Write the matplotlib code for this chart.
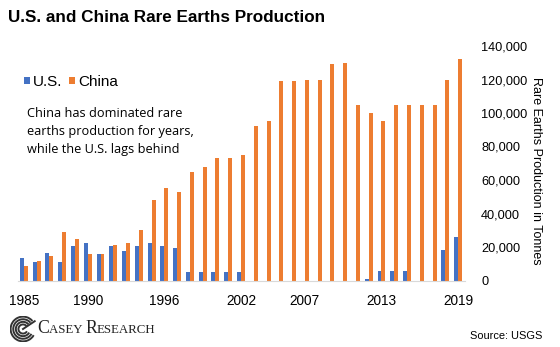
import numpy as np
import matplotlib
matplotlib.use("Agg")
import matplotlib.pyplot as plt
from matplotlib.patches import Arc

years = list(range(1985, 2020))
us = [13400, 11000, 16500, 11300, 20500, 22500, 15900, 20300, 17500, 20300,
      22100, 20300, 19700, 5000, 5000, 5000, 5000, 5000, 0, 0,
      0, 0, 0, 0, 0, 0, 0, 800, 5500, 5400, 5900, 0, 0, 18000, 26000]
china = [8500, 11600, 14600, 29200, 24900, 16100, 15700, 20900, 22100, 30400,
         48000, 55000, 53000, 65000, 68000, 73000, 73000, 75000, 92000, 95000,
         119000, 119000, 120000, 120000, 129000, 130000, 105000, 100000, 95000, 105000,
         105000, 105000, 105000, 120000, 132000]
tick_years = [1985, 1990, 1996, 2002, 2007, 2013, 2019]

blue = "#4472C4"
orange = "#ED7D31"
sans = ["Liberation Sans", "DejaVu Sans"]
serif = ["Liberation Serif", "DejaVu Serif"]

fig = plt.figure(figsize=(5.6, 3.47), dpi=100)
ax = fig.add_axes([17.5/560, 66.5/347, 447/560, 234.5/347])

x = np.arange(len(years))
w = 0.31
ax.bar(x - w/2, us, width=w, color=blue, label="U.S.")
ax.bar(x + w/2, china, width=w, color=orange, label="China")

ax.set_xlim(-0.5, len(years) - 0.5)
ax.set_ylim(0, 140000)
ax.set_xticks([years.index(y) for y in tick_years])
ax.set_xticklabels([str(y) for y in tick_years], family=sans, fontsize=9.8)
ax.yaxis.tick_right()
ax.set_yticks(np.arange(0, 140001, 20000))
ax.set_yticklabels([f"{v:,}" for v in range(0, 140001, 20000)], family=sans, fontsize=9.2)
ax.tick_params(length=0)
ax.tick_params(axis="y", pad=12)
ax.tick_params(axis="x", pad=10)
for s in ["top", "left", "right"]:
    ax.spines[s].set_visible(False)
ax.spines["bottom"].set_color("#d9d9d9")

fig.text(536/560, 1 - 171/347, "Rare Earths Production in Tonnes", family=sans,
         fontsize=9.0, rotation=-90, ha="center", va="center")

fig.text(8/560, 1 - 17/347, "U.S. and China Rare Earths Production",
         family=sans, fontsize=12.3, fontweight="bold", va="center")

fig.legend(loc="center left", bbox_to_anchor=(24/560, 1 - 82/347), ncol=2,
           frameon=False, prop={"family": sans, "size": 11},
           handlelength=0.4, handleheight=0.4, handletextpad=0.2,
           columnspacing=0.4, borderpad=0, borderaxespad=0)

fig.text(27/560, 1 - 107/347,
         "China has dominated rare\nearths production for years,\nwhile the U.S. lags behind",
         family=["Open Sans", "DejaVu Sans"], fontsize=9.2, va="top",
         linespacing=1.5)

fig.text(542/560, 1 - 336/347, "Source: USGS", family=sans, fontsize=7.9,
         ha="right", va="center")

# Casey Research logo
lax = fig.add_axes([10/560, 1 - 342/347, 26/560, 26/347])
lax.set_xlim(-1, 1)
lax.set_ylim(-1, 1)
lax.set_aspect("equal")
lax.axis("off")
for r in [0.95, 0.75, 0.55, 0.35]:
    lax.add_patch(Arc((0, 0), 2*r, 2*r, theta1=40, theta2=330, color="#333333", lw=1.4))
lax.plot([0, 0.9], [0, 0.6], color="#333333", lw=1.4)

renderer = fig.canvas.get_renderer()
xpos = 37
for piece, size in [("C", 12.8), ("ASEY ", 9.3), ("R", 12.8), ("ESEARCH", 9.3)]:
    t = fig.text(xpos/560, 1 - 333/347, piece, family=serif, fontsize=size,
                 va="baseline", color="#222222")
    xpos += t.get_window_extent(renderer).width

fig.savefig("out.png", dpi=100)
